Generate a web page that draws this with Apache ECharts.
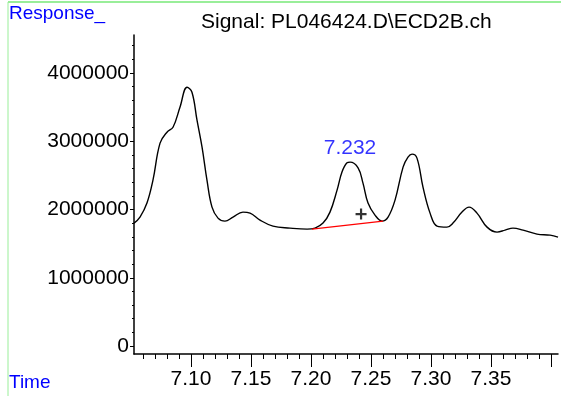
<!DOCTYPE html>
<html>
<head>
<meta charset="utf-8">
<script src="https://cdn.jsdelivr.net/npm/echarts@6/dist/echarts.min.js"></script>
<style>
html,body{margin:0;padding:0;background:#fff;}
#c{width:561px;height:396px;}
</style>
</head>
<body>
<div id="c"></div>
<script>
// Data
var times = [7.0525,7.0575,7.0633,7.0683,7.0742,7.0800,7.0850,7.0908,7.0967,7.1008,7.1050,7.1092,7.1133,7.1175,7.1225,7.1283,7.1350,7.1433,7.1492,7.1575,7.1683,7.1825,7.1967,7.2033,7.2100,7.2158,7.2217,7.2258,7.2300,7.2325,7.2392,7.2433,7.2475,7.2533,7.2592,7.2642,7.2700,7.2767,7.2808,7.2842,7.2883,7.2933,7.2992,7.3050,7.3133,7.3183,7.3258,7.3317,7.3383,7.3467,7.3550,7.3617,7.3683,7.3767,7.3883,7.3992,7.4058];
var responses = [1801000,1889000,2094000,2430000,2972000,3133000,3206000,3499000,3792000,3719000,3309000,2914000,2430000,2035000,1874000,1830000,1889000,1962000,1947000,1845000,1757000,1728000,1713000,1728000,1801000,1962000,2284000,2548000,2684000,2694000,2611000,2387000,2094000,1918000,1830000,1889000,2138000,2621000,2767000,2811000,2753000,2328000,1947000,1757000,1742000,1801000,1962000,2035000,1947000,1742000,1669000,1698000,1728000,1698000,1640000,1625000,1596000];
var baselineTimes = [7.2008, 7.2600];
var baselineValues = [1713000, 1830000];
var peakTime = [7.2325];
var peakValue = [2694000];
var peakText = ['7.232'];
var centroidTime = [7.2417];
var centroidValue = [1933000];
var yTickLabels = [0, 1000000, 2000000, 3000000, 4000000];
var yMinorTicks = [200000,400000,600000,800000,1200000,1400000,1600000,1800000,2200000,2400000,2600000,2800000,3200000,3400000,3600000,3800000,4200000,4400000];
var xTickLabels = [7.10, 7.15, 7.20, 7.25, 7.30, 7.35];
var xMajorTicks = [7.10, 7.15, 7.20, 7.25, 7.30, 7.35, 7.40];
var xMinorTicks = [7.06,7.07,7.08,7.09,7.11,7.12,7.13,7.14,7.16,7.17,7.18,7.19,7.21,7.22,7.23,7.24,7.26,7.27,7.28,7.29,7.31,7.32,7.33,7.34,7.36,7.37,7.38,7.39];

var xMin = 7.0525, xMax = 7.4058, yMin = -117000, yMax = 4557000;
var FONT = 'Liberation Sans, Arial, sans-serif';

var chart = echarts.init(document.getElementById('c'), null, {renderer: 'canvas'});
var trace = times.map(function (t, i) { return [t, responses[i]]; });
var base = baselineTimes.map(function (t, i) { return [t, baselineValues[i]]; });

chart.setOption({
  animation: false,
  backgroundColor: '#ffffff',
  title: {
    text: 'Signal: PL046424.D\\ECD2B.ch',
    left: 196, top: 7,
    textStyle: {fontFamily: FONT, fontSize: 21, fontWeight: 'normal', color: '#000'}
  },
  grid: {left: 134, right: 3, top: 35, bottom: 42, containLabel: false},
  xAxis: [{
    type: 'value', min: xMin, max: xMax, position: 'bottom',
    axisLine: {show: true, onZero: false, lineStyle: {color: '#000', width: 1.5}},
    axisTick: {show: true, length: 13, customValues: xMajorTicks, lineStyle: {color: '#000', width: 1}},
    axisLabel: {show: true, customValues: xTickLabels, margin: 15, color: '#000', fontFamily: FONT, fontSize: 21,
      formatter: function (v) { return v.toFixed(2); }},
    splitLine: {show: false}
  }, {
    type: 'value', min: xMin, max: xMax, position: 'bottom',
    axisLine: {show: false, onZero: false},
    axisTick: {show: true, length: 5, customValues: xMinorTicks, lineStyle: {color: '#000', width: 1}},
    axisLabel: {show: false},
    splitLine: {show: false}
  }],
  yAxis: [{
    type: 'value', min: yMin, max: yMax, position: 'left',
    axisLine: {show: true, onZero: false, lineStyle: {color: '#000', width: 1.5}},
    axisTick: {show: true, length: 4, customValues: yTickLabels, lineStyle: {color: '#000', width: 1}},
    axisLabel: {show: true, customValues: yTickLabels, margin: 5, color: '#000', fontFamily: FONT, fontSize: 21,
      formatter: function (v) { return String(v); }},
    splitLine: {show: false}
  }, {
    type: 'value', min: yMin, max: yMax, position: 'left',
    axisLine: {show: false, onZero: false},
    axisTick: {show: true, length: 2, customValues: yMinorTicks, lineStyle: {color: '#000', width: 1}},
    axisLabel: {show: false},
    splitLine: {show: false}
  }],
  series: [{
    type: 'line', data: trace, xAxisIndex: 0, yAxisIndex: 0,
    smooth: 0.4, showSymbol: false, symbol: 'none',
    lineStyle: {color: '#000', width: 1.4}, z: 3
  }, {
    type: 'line', data: base, xAxisIndex: 0, yAxisIndex: 0,
    showSymbol: false, symbol: 'none',
    lineStyle: {color: '#ff0000', width: 1.3}, z: 4
  }, {
    type: 'scatter', xAxisIndex: 0, yAxisIndex: 0,
    data: peakTime.map(function (t, i) { return [t, peakValue[i]]; }),
    symbolSize: 0, z: 5,
    label: {show: true, position: 'top', distance: 3, color: '#0000ff', fontFamily: FONT, fontSize: 21,
      formatter: function (p) { return peakText[p.dataIndex]; }}
  }, {
    type: 'scatter', xAxisIndex: 0, yAxisIndex: 0,
    data: centroidTime.map(function (t, i) { return [t, centroidValue[i]]; }),
    symbol: 'path://M4,0h2v4h4v2h-4v4h-2v-4h-4v-2h4z', symbolSize: 11,
    itemStyle: {color: '#000'}, z: 5
  }],
  graphic: [
    {type: 'line', shape: {x1: 8, y1: 2, x2: 561, y2: 2}, style: {stroke: '#99ee99', lineWidth: 2}, silent: true},
    {type: 'line', shape: {x1: 8, y1: 2, x2: 8, y2: 396}, style: {stroke: '#99ee99', lineWidth: 1}, silent: true},
    {type: 'text', left: 9, top: 4, style: {text: 'Response_', fill: '#0000ff', font: '19px ' + FONT}, silent: true},
    {type: 'text', left: 9, top: 373, style: {text: 'Time', fill: '#0000ff', font: '19px ' + FONT}, silent: true}
  ]
});
</script>
</body>
</html>
